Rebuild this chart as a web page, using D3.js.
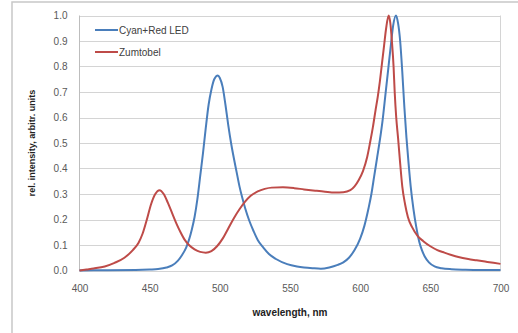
<!DOCTYPE html>
<html>
<head>
<meta charset="utf-8">
<script src="https://cdn.jsdelivr.net/npm/d3@7"></script>
<style>
  body { margin: 0; background: #fff; }
  svg text { font-family: "Liberation Sans", Arial, sans-serif; }
</style>
</head>
<body>
<svg id="chart" width="518" height="333"></svg>
<script>
// Cyan+Red LED spectrum
var ledWl  = [400, 420, 440, 450, 456, 462, 466, 470, 473, 476, 478, 480, 482, 484, 486, 488, 490, 492, 494, 496, 498.6, 500, 502, 504, 506, 508, 510, 512, 514, 516, 518, 521, 524, 527, 531, 535, 540, 548, 555, 560, 566, 572, 578, 584, 588, 592, 596, 600, 603, 606, 608, 610, 612, 614, 616, 618, 620, 622, 623.5, 625.5, 627, 628.5, 630, 631.5, 633, 634.5, 636, 638, 640, 642, 644, 646, 649, 653, 658, 665, 675, 685, 700];
var ledVal = [0.0, 0.001, 0.002, 0.004, 0.006, 0.012, 0.02, 0.038, 0.06, 0.09, 0.12, 0.16, 0.21, 0.28, 0.37, 0.46, 0.56, 0.65, 0.71, 0.75, 0.765, 0.755, 0.72, 0.65, 0.57, 0.5, 0.44, 0.385, 0.33, 0.285, 0.245, 0.195, 0.155, 0.12, 0.09, 0.065, 0.045, 0.025, 0.016, 0.012, 0.009, 0.007, 0.012, 0.022, 0.032, 0.05, 0.08, 0.125, 0.175, 0.245, 0.3, 0.37, 0.44, 0.51, 0.59, 0.69, 0.79, 0.89, 0.96, 1.0, 0.97, 0.9, 0.78, 0.64, 0.52, 0.42, 0.33, 0.24, 0.17, 0.115, 0.08, 0.055, 0.032, 0.016, 0.009, 0.005, 0.003, 0.002, 0.002];

// Zumtobel spectrum
var zumWl  = [400, 405, 410, 418, 425, 432, 438, 442, 445, 448, 451, 454, 457, 460, 463, 466, 469, 472, 475, 478, 482, 486, 490, 494, 498, 502, 506, 510, 514, 518, 522, 527, 532, 537, 545, 553, 560, 568, 575, 582, 588, 593, 596, 599, 602, 605, 607, 609, 611, 612.5, 614, 615.5, 617, 618.5, 620.3, 621.5, 622.6, 623.8, 624.6, 625.7, 627, 628.5, 630, 632, 634, 637, 641, 645, 650, 655, 660, 665, 670, 677, 683, 689, 695, 700];
var zumVal = [0.0, 0.004, 0.008, 0.016, 0.03, 0.05, 0.08, 0.108, 0.145, 0.2, 0.26, 0.3, 0.315, 0.3, 0.265, 0.225, 0.185, 0.15, 0.12, 0.1, 0.083, 0.073, 0.07, 0.076, 0.095, 0.125, 0.165, 0.205, 0.24, 0.27, 0.293, 0.31, 0.32, 0.325, 0.326, 0.323, 0.318, 0.313, 0.309, 0.306, 0.307, 0.315, 0.33, 0.355, 0.39, 0.445, 0.5, 0.56, 0.63, 0.68, 0.74, 0.81, 0.88, 0.95, 1.0, 0.97, 0.9, 0.8, 0.7, 0.6, 0.52, 0.42, 0.33, 0.26, 0.21, 0.17, 0.135, 0.115, 0.095, 0.08, 0.07, 0.061, 0.053, 0.045, 0.04, 0.035, 0.03, 0.026];

var seriesNames  = ['Cyan+Red LED', 'Zumtobel'];
var seriesColors = ['#4a7ebb', '#be4b48'];
var xTicks = [400, 450, 500, 550, 600, 650, 700];
var yTicks = [0, 0.1, 0.2, 0.3, 0.4, 0.5, 0.6, 0.7, 0.8, 0.9, 1.0];

var svg = d3.select('#chart');
var plotL = 79.5, plotR = 500.5, plotT = 15.5, plotB = 270.5;

// outer chart frame
svg.append('rect')
    .attr('x', 12).attr('y', 2)
    .attr('width', 520).attr('height', 340)
    .attr('fill', 'none')
    .attr('stroke', '#c8c8c8')
    .attr('stroke-width', 1.5);

var x = d3.scaleLinear().domain([400, 700]).range([plotL, plotR]);
var y = d3.scaleLinear().domain([0, 1]).range([plotB, plotT]);

// gridlines
svg.append('g')
    .selectAll('line')
    .data(yTicks)
    .enter()
    .append('line')
    .attr('x1', plotL).attr('x2', plotR)
    .attr('y1', function(d) { return Math.round(y(d)) + 0.5; })
    .attr('y2', function(d) { return Math.round(y(d)) + 0.5; })
    .attr('stroke', '#d4d4d4')
    .attr('stroke-width', 1);

// plot area right/left border
svg.append('line')
    .attr('x1', plotR).attr('x2', plotR)
    .attr('y1', plotT).attr('y2', plotB + 0.5)
    .attr('stroke', '#d4d4d4');
svg.append('line')
    .attr('x1', plotL).attr('x2', plotL)
    .attr('y1', plotT).attr('y2', plotB + 0.5)
    .attr('stroke', '#bdbdbd');

// axes (labels only)
var yAxis = svg.append('g')
    .attr('transform', 'translate(' + plotL + ',0)')
    .call(d3.axisLeft(y).tickValues(yTicks).tickFormat(d3.format('.1f')).tickSize(0).tickPadding(12));
var xAxis = svg.append('g')
    .attr('transform', 'translate(0,' + plotB + ')')
    .call(d3.axisBottom(x).tickValues(xTicks).tickSize(0).tickPadding(14));
[xAxis, yAxis].forEach(function(a) {
  a.select('.domain').remove();
  a.selectAll('text')
      .attr('fill', '#595959')
      .style('font-size', '10px');
});

// curves
var line = d3.line()
    .x(function(d) { return x(d[0]); })
    .y(function(d) { return y(d[1]); })
    .curve(d3.curveMonotoneX);

var series = [
  d3.zip(ledWl, ledVal),
  d3.zip(zumWl, zumVal)
];

svg.append('g')
    .selectAll('path')
    .data(series)
    .enter()
    .append('path')
    .attr('d', line)
    .attr('fill', 'none')
    .attr('stroke', function(d, i) { return seriesColors[i]; })
    .attr('stroke-width', 2)
    .attr('stroke-linejoin', 'round');

// legend
var legend = svg.append('g')
    .selectAll('g')
    .data(seriesNames)
    .enter()
    .append('g')
    .attr('transform', function(d, i) { return 'translate(95,' + (30 + i * 22) + ')'; });
legend.append('line')
    .attr('x1', 0).attr('x2', 23)
    .attr('stroke', function(d, i) { return seriesColors[i]; })
    .attr('stroke-width', 2);
legend.append('text')
    .attr('x', 24).attr('y', 3.5)
    .style('font-size', '10px')
    .attr('fill', '#404040')
    .text(function(d) { return d; });

// axis titles
svg.append('text')
    .attr('x', 290).attr('y', 316)
    .attr('text-anchor', 'middle')
    .style('font-size', '10px')
    .style('font-weight', 'bold')
    .attr('fill', '#222')
    .text('wavelength, nm');
svg.append('text')
    .attr('transform', 'translate(35,' + ((plotT + plotB) / 2) + ') rotate(-90)')
    .attr('text-anchor', 'middle')
    .style('font-size', '9px')
    .style('font-weight', 'bold')
    .attr('fill', '#222')
    .text('rel. intensity, arbitr. units');
</script>
</body>
</html>
